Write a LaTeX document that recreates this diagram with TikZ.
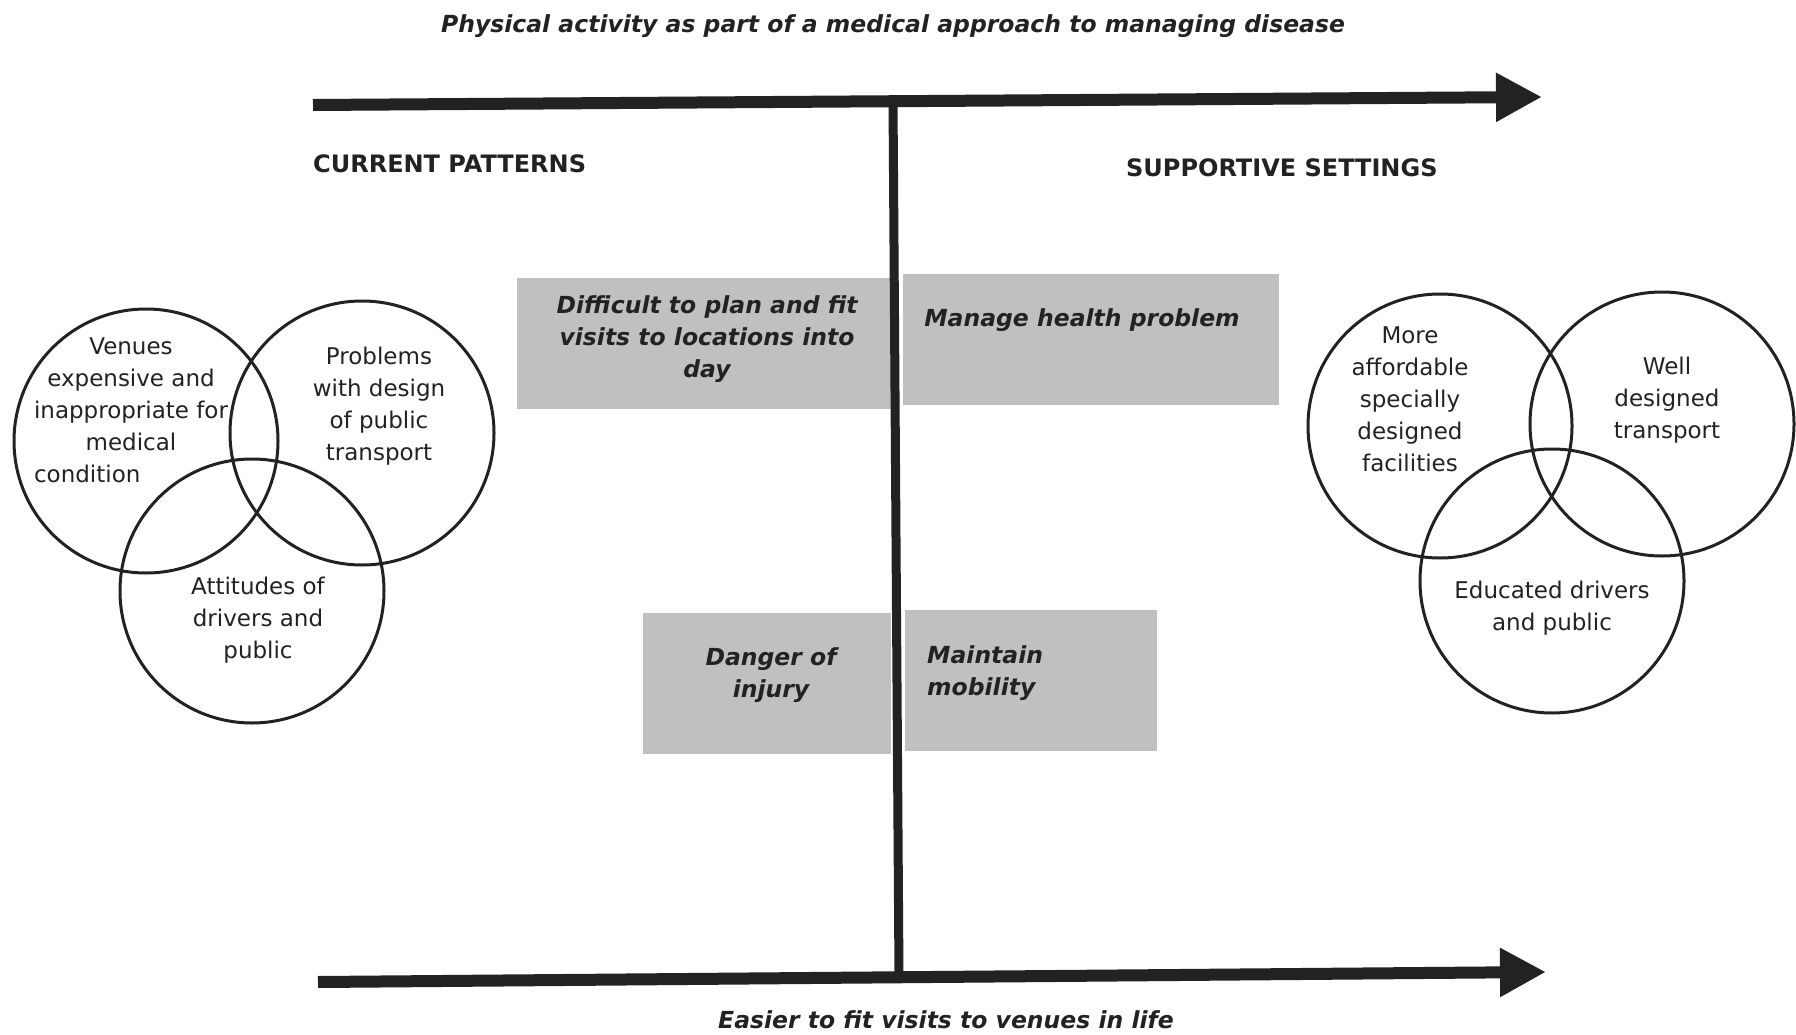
\documentclass[tikz,border=0pt]{standalone}
\usepackage{fontspec}
\setmainfont{DejaVu Sans}
\usetikzlibrary{arrows.meta}
\definecolor{ink}{RGB}{34,34,34}
\definecolor{panel}{RGB}{192,192,192}

\begin{document}
\begin{tikzpicture}[x=1pt,y=-1pt,
  every node/.style={text=ink},
  venn/.style={circle,draw=ink,line width=3pt,minimum size=264pt,inner sep=0pt},
  lbl/.style={font=\fontsize{23}{32}\selectfont,align=center,inner sep=0pt},
  emph/.style={font=\fontsize{23.5}{32}\selectfont\bfseries\itshape,align=center,inner sep=0pt},
  head/.style={font=\fontsize{24}{28}\selectfont\bfseries,anchor=west,inner sep=0pt},
  panelbox/.style={fill=panel,draw=none,inner sep=0pt},
  axis/.style={draw=ink,line width=12pt,-{Triangle[length=46pt,width=46pt]}},
]
\useasboundingbox (0,0) rectangle (1796,1035);

% headings
\node[emph] (title) at (893,26) {Physical activity as part of a medical approach to managing disease};
\node[emph] (foot) at (946,1020) {Easier to fit visits to venues in life};
\node[head] (current) at (313,164) {CURRENT PATTERNS};
\node[head] (support) at (1126,168) {SUPPORTIVE SETTINGS};

% shaded panels either side of the divider
\node[panelbox,minimum width=374pt,minimum height=131pt] (pTL) at (704,343.5) {};
\node[panelbox,minimum width=376pt,minimum height=131pt] (pTR) at (1091,339.5) {};
\node[panelbox,minimum width=248pt,minimum height=141pt] (pBL) at (767,683.5) {};
\node[panelbox,minimum width=252pt,minimum height=141pt] (pBR) at (1031,680.5) {};

\node[emph] (plan) at (707,339) {Difficult to plan and fit\\visits to locations into\\day};
\node[emph] (manage) at (1082,320) {Manage health problem};
\node[emph] (danger) at (771,675) {Danger of\\injury};
\node[emph,align=left,anchor=west] (mobility) at (927,673) {Maintain\\mobility};

% axes
\coordinate (topL) at (313,105);
\coordinate (topR) at (1542,97);
\coordinate (botL) at (318,982);
\coordinate (botR) at (1546,972);
\coordinate (vTop) at (893,100);
\coordinate (vBot) at (899,977);
\draw[axis] (topL) -- (topR);
\draw[axis] (botL) -- (botR);
\draw[ink,line width=9pt] (vTop) -- (vBot);

% barriers
\node[venn] (cA) at (146,441) {};
\node[venn] (cB) at (362,433) {};
\node[venn] (cC) at (252,591) {};
\node[lbl] (tA) at (131,413) {Venues\\expensive and\\inappropriate for\\medical\\\rlap{condition}\phantom{inappropriate for}};
\node[lbl] (tB) at (379,406) {Problems\\with design\\of public\\transport};
\node[lbl] (tC) at (258,620) {Attitudes of\\drivers and\\public};

% supports
\node[venn] (cD) at (1440,426) {};
\node[venn] (cE) at (1662,424) {};
\node[venn] (cF) at (1552,581) {};
\node[lbl] (tD) at (1410,399) {More\\affordable\\specially\\designed\\facilities};
\node[lbl] (tE) at (1667,400) {Well\\designed\\transport};
\node[lbl] (tF) at (1552,608) {Educated drivers\\and public};
\end{tikzpicture}
\end{document}
